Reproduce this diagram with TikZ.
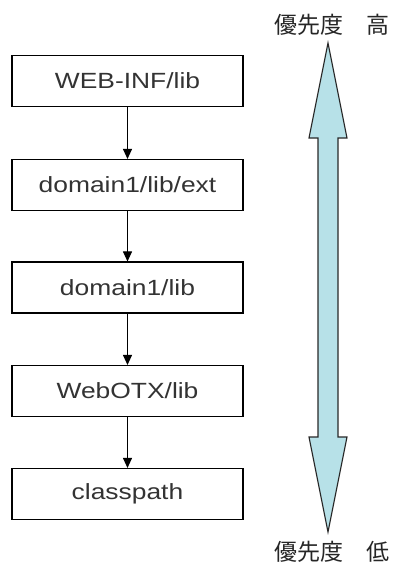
\documentclass[tikz,border=0pt]{standalone}
\usepackage{fontspec}
\setmainfont{Liberation Sans}[FakeStretch=1.2]
\newfontfamily\jpfont{Noto Sans CJK JP}
\usetikzlibrary{arrows.meta}
\definecolor{arrowblue}{RGB}{183,225,232}
\definecolor{edgegray}{RGB}{40,40,40}
\tikzset{
  box/.style={draw=black, line width=1.1pt, minimum width=231pt, minimum height=51pt,
    inner sep=0pt, font=\fontsize{22}{24}\selectfont, text=black!80},
  flow/.style={draw=black, line width=1pt, -{Triangle[width=9pt,length=10pt]}},
  jp/.style={font=\jpfont\fontsize{23}{25}\selectfont, text=black!85, inner sep=0pt}
}
\begin{document}
\begin{tikzpicture}[x=1pt,y=-1pt]
\useasboundingbox (0,0) rectangle (395,570);
\node[box] (b1) at (127.5,81) {WEB-INF/lib};
\node[box] (b2) at (127.5,185) {domain1/lib/ext};
\node[box] (b3) at (127.5,287.5) {domain1/lib};
\node[box] (b4) at (127.5,391) {WebOTX/lib};
\node[box] (b5) at (127.5,494) {classpath};
\draw[flow] (b1) -- (b2);
\draw[flow] (b2) -- (b3);
\draw[flow] (b3) -- (b4);
\draw[flow] (b4) -- (b5);
\node[jp] (hi) at (332,25) {優先度　高};
\node[jp] (lo) at (332,552) {優先度　低};
\draw[fill=arrowblue, draw=edgegray, line width=1.1pt, line join=miter]
  (328,43) -- (347,138) -- (338,138) -- (338,437) -- (347,437) -- (328,532)
  -- (309,437) -- (318,437) -- (318,138) -- (309,138) -- cycle;
\end{tikzpicture}
\end{document}
